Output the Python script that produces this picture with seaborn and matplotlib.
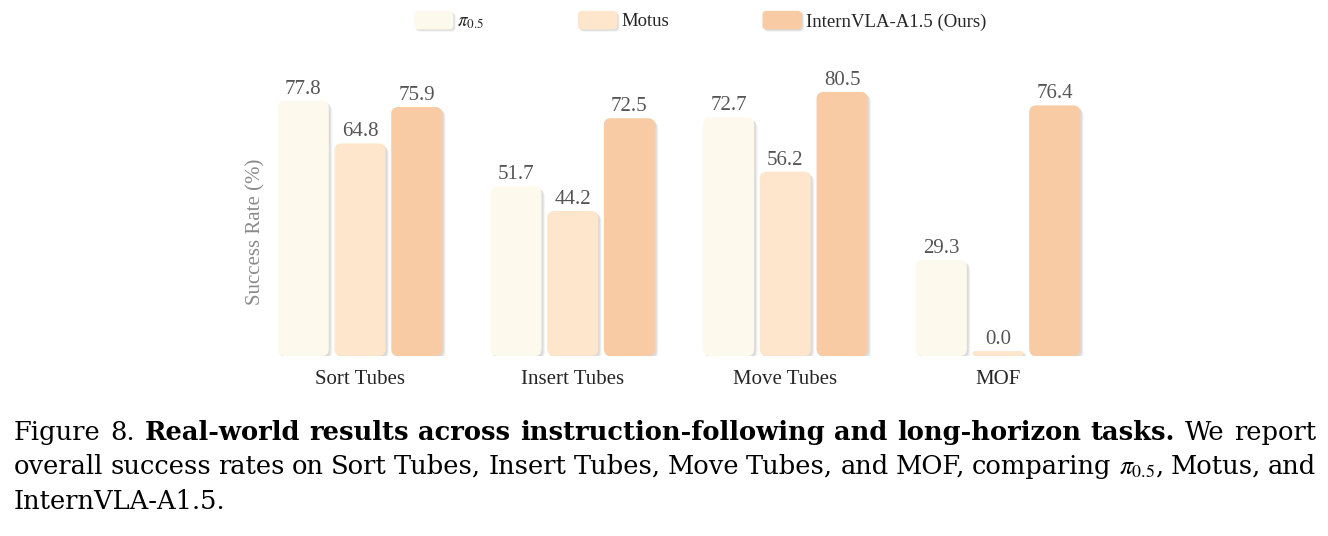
import pandas as pd
import matplotlib
matplotlib.use('Agg')
from matplotlib import pyplot as plt
from matplotlib.patches import FancyBboxPatch
from matplotlib.transforms import ScaledTranslation
import seaborn as sns

# chart data
tasks = ['Sort Tubes', 'Insert Tubes', 'Move Tubes', 'MOF']
models = ['$\\pi_{0.5}$', 'Motus', 'InternVLA-A1.5 (Ours)']
pi05 = [77.8, 51.7, 72.7, 29.3]
motus = [64.8, 44.2, 56.2, 0.0]
intern = [75.9, 72.5, 80.5, 76.4]
colors = ['#FDF9EC', '#FDE6CB', '#F8CBA4']

rows = []
for m, vals in zip(models, [pi05, motus, intern]):
    for t, v in zip(tasks, vals):
        rows.append({'task': t, 'model': m, 'rate': v})
df = pd.DataFrame(rows)

sns.set_style('white')
plt.rcParams['font.family'] = 'serif'
plt.rcParams['font.serif'] = ['Liberation Serif', 'DejaVu Serif']
plt.rcParams['mathtext.fontset'] = 'stix'

W, H = 1328, 536
fig = plt.figure(figsize=(W / 100, H / 100), dpi=100)
# axes placed in pixels: x from 270.7 to 1115, y bottom at 356 from top
ax_l, ax_r, ax_b, ax_h = 270.7, 1115.0, 180.0, 295.2
ax = fig.add_axes([ax_l / W, ax_b / H, (ax_r - ax_l) / W, ax_h / H])

sns.barplot(data=df, x='task', y='rate', hue='model', palette=colors, saturation=1,
            width=0.8, gap=0.1, ax=ax, edgecolor='none', linewidth=0)
ax.set_xlim(-0.42, 3.55)
ax.set_ylim(0, 90)

handles, labels = ax.get_legend_handles_labels()
ax.get_legend().remove()

# px per data unit, for rounded corners
px_x = (ax_r - ax_l) / (3.55 + 0.42)
px_y = ax_h / 90
asp = px_x / px_y

def shadow_tf(dx, dy):
    return ax.transData + ScaledTranslation(dx / 72, -dy / 72, fig.dpi_scale_trans)

bars = [p for c in ax.containers for p in c]
for p in bars:
    x, w, h = p.get_x(), p.get_width(), p.get_height()
    fc = p.get_facecolor()
    p.set_visible(False)
    hd = max(h, 1.5)  # keep zero bar visible as a thin strip
    r_px = min(7, hd * px_y / 2)
    r = r_px / px_x
    style = f'round,pad=0,rounding_size={r}'
    for d, a in [(2.6, 0.05), (1.9, 0.09), (1.2, 0.13)]:
        ax.add_patch(FancyBboxPatch((x, 0), w, hd, boxstyle=style,
                                    mutation_aspect=asp, fc='#707070', ec='none',
                                    alpha=a, transform=shadow_tf(d, d), zorder=1))
    ax.add_patch(FancyBboxPatch((x, 0), w, hd, boxstyle=style,
                                mutation_aspect=asp, fc=fc, ec='none', zorder=2))
    ax.annotate(f'{h:.1f}', (x + w / 2, hd), xytext=(0, 1.5), textcoords='offset points',
                ha='center', va='bottom', fontsize=15, color='#555555')

sns.despine(ax=ax, left=True, bottom=True)
ax.set_yticks([])
ax.set_xlabel('')
ax.set_ylabel('')
ax.tick_params(axis='x', length=0, pad=10, labelsize=15)
fig.text(256 / W, 1 - 232 / H, 'Success Rate (%)', rotation=90, ha='center', va='center',
         fontsize=15, color='#8a8a8a')


class RoundHandler:
    def legend_artist(self, legend, orig_handle, fontsize, handlebox):
        x0, y0 = -handlebox.xdescent, -handlebox.ydescent
        w, h = handlebox.width, handlebox.height
        tf = handlebox.get_transform()
        for d, a in [(1.6, 0.10), (1.0, 0.15)]:
            handlebox.add_artist(FancyBboxPatch((x0 + d, y0 - d), w, h,
                                                boxstyle='round,pad=0,rounding_size=3',
                                                fc='#777777', ec='none', alpha=a, transform=tf))
        patch = FancyBboxPatch((x0, y0), w, h, boxstyle='round,pad=0,rounding_size=3',
                               fc=orig_handle.get_facecolor(), ec='none', transform=tf)
        handlebox.add_artist(patch)
        return patch


fig.legend(handles, labels, loc='center', bbox_to_anchor=(700 / W, 1 - 21 / H), ncol=3,
           frameon=False, handlelength=2.1, handleheight=1.15, columnspacing=5.0,
           handletextpad=0.2, fontsize=13.5,
           handler_map={h: RoundHandler() for h in handles})

# caption, justified between x=14 and x=1316
renderer = fig.canvas.get_renderer()
cap_size = 18.5
cap_font = ['DejaVu Serif']

def put_line(words, base_y, justify=True, x0=14, x1=1316):
    texts = []
    for s, wt in words:
        t = fig.text(0, 1 - base_y / H, s, fontsize=cap_size, fontweight=wt, family=cap_font,
                     va='baseline', ha='left', color='black')
        texts.append(t)
    widths = [t.get_window_extent(renderer).width for t in texts]
    if justify and len(texts) > 1:
        gap = (x1 - x0 - sum(widths)) / (len(texts) - 1)
    else:
        gap = cap_size * 100 / 72 * 0.25
    x = x0
    for t, wd in zip(texts, widths):
        t.set_x(x / W)
        x += wd + gap

line1 = [('Figure', 'normal'), ('8.', 'normal')]
line1 += [(w, 'bold') for w in 'Real-world results across instruction-following and long-horizon tasks.'.split()]
line1 += [('We', 'normal'), ('report', 'normal')]
line2 = [(w, 'normal') for w in ('overall success rates on Sort Tubes, Insert Tubes, Move Tubes, '
                                 'and MOF, comparing').split()]
line2 += [('$\\pi_{0.5}$,', 'normal'), ('Motus,', 'normal'), ('and', 'normal')]
put_line(line1, 440)
put_line(line2, 474)
put_line([('InternVLA-A1.5.', 'normal')], 509, justify=False)

fig.savefig('out.png', dpi=100)
